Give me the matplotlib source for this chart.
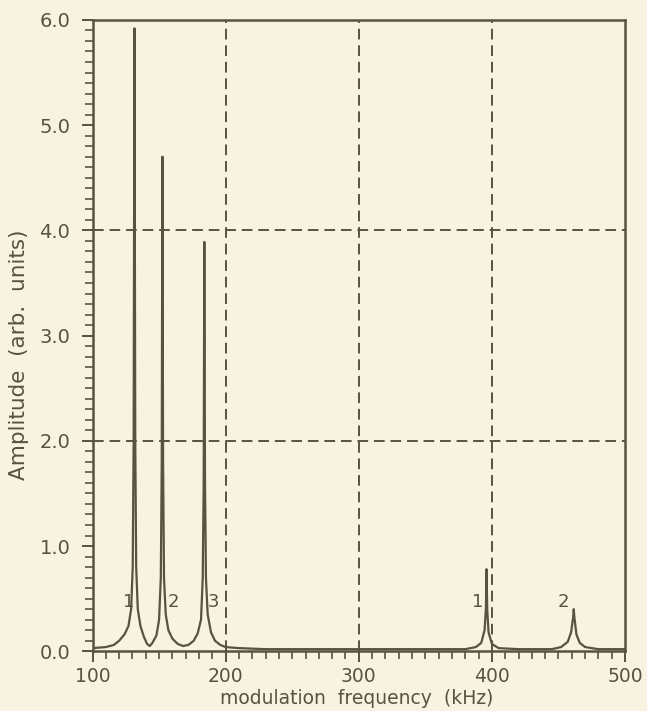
import matplotlib
matplotlib.use("Agg")
import matplotlib.pyplot as plt
from matplotlib.ticker import MultipleLocator

# spectrum: modulation frequency (kHz) and amplitude (arb. units)
freq = [100, 110, 116, 120, 124, 127, 129, 130.2, 130.9, 131.5, 132.1, 132.8, 134, 136, 138.5, 141, 143,
        145, 148, 150, 151.3, 152, 152.5, 153, 153.7, 155, 157, 160, 164, 168,
        172, 176, 179, 181.5, 182.8, 183.5, 184, 184.5, 185.2, 186.5, 189, 192, 196, 200, 210, 230,
        300, 380, 388, 392, 394.5, 395.5, 396, 396.5, 397.5, 400, 405, 420,
        445, 452, 457, 459.5, 461, 461.5, 462, 463.5, 466, 470, 480, 500]
amp = [0.03, 0.04, 0.06, 0.10, 0.16, 0.24, 0.40, 0.80, 2.0, 5.92, 2.0, 0.80, 0.40, 0.24, 0.14, 0.07, 0.05,
       0.08, 0.15, 0.30, 0.70, 1.8, 4.70, 1.8, 0.70, 0.35, 0.20, 0.12, 0.07, 0.05,
       0.06, 0.10, 0.17, 0.30, 0.70, 1.6, 3.89, 1.6, 0.70, 0.35, 0.18, 0.10, 0.06, 0.04, 0.03, 0.02,
       0.02, 0.02, 0.04, 0.08, 0.20, 0.40, 0.78, 0.40, 0.18, 0.07, 0.03, 0.02,
       0.02, 0.04, 0.09, 0.18, 0.32, 0.40, 0.32, 0.16, 0.08, 0.04, 0.02, 0.02]

# peak labels
peak_labels = ["1", "2", "3", "1", "2"]
label_x = [127, 161, 191, 389.5, 454]
label_y = [0.47, 0.47, 0.47, 0.47, 0.47]

grid_x = [200, 300, 400]
grid_y = [2.0, 4.0]

ink = "#56533f"
paper = "#f8f2e0"

fig = plt.figure(figsize=(6.47, 7.11), dpi=100, facecolor=paper)
ax = fig.add_axes([0.143, 0.084, 0.823, 0.888])
ax.set_facecolor(paper)

ax.plot(freq, amp, color=ink, lw=1.6)

for gx in grid_x:
    ax.axvline(gx, color=ink, lw=1.4, ls=(0, (5.5, 3)))
for gy in grid_y:
    ax.axhline(gy, color=ink, lw=1.4, ls=(0, (5.5, 3)))

for t, x, y in zip(peak_labels, label_x, label_y):
    ax.text(x, y, t, color=ink, fontsize=13, ha="center", va="center")

ax.set_xlim(100, 500)
ax.set_ylim(0, 6.0)
ax.xaxis.set_major_locator(MultipleLocator(100))
ax.xaxis.set_minor_locator(MultipleLocator(10))
ax.yaxis.set_major_locator(MultipleLocator(1.0))
ax.yaxis.set_minor_locator(MultipleLocator(0.1))
ax.yaxis.set_major_formatter(plt.FormatStrFormatter("%.1f"))

ax.tick_params(which="both", direction="out", color=ink, labelcolor=ink, labelsize=14)
ax.tick_params(which="major", length=8, width=1.4)
ax.tick_params(which="minor", length=5.5, width=1.2)
ax.tick_params(axis="y", which="major", pad=8)
ax.tick_params(axis="x", which="major", pad=3, labelsize=13.5)

for s in ax.spines.values():
    s.set_color(ink)
    s.set_linewidth(1.8)

ax.set_xlabel("modulation  frequency  (kHz)", color=ink, fontsize=13.5)
ax.xaxis.set_label_coords(0.497, -0.06)
ax.set_ylabel("Amplitude  (arb.  units)", color=ink, fontsize=15.5)
ax.yaxis.set_label_coords(-0.12, 0.47)

fig.savefig("out.png", dpi=100, facecolor=paper)
